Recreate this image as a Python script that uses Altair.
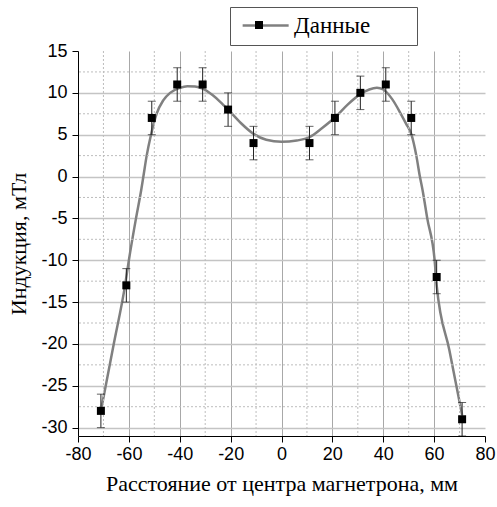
import altair as alt
import pandas as pd

# Measured field along the magnetron radius: position (mm), induction (mT), uncertainty (mT)
pos_mm = [-71, -61, -51, -41, -31, -21, -11, 11, 21, 31, 41, 51, 61, 71]
induction_mT = [-28, -13, 7, 11, 11, 8, 4, 4, 7, 10, 11, 7, -12, -29]
error_mT = [2, 2, 2, 2, 2, 2, 2, 2, 2, 2, 2, 2, 2, 2]

# Smoothed trend through the measurements
curve_mm = [-71, -66, -61.5, -60, -57.2, -55.2, -54.3, -53.0, -51.3, -49.1, -46.5,
            -43.8, -40, -37, -34, -31, -27, -24, -21, -16, -11, -6, 0, 6, 11, 16,
            21, 26, 31, 34.5, 37.5, 40, 43.5, 46.9, 49, 51.1, 53.0, 54.4, 55.5,
            57.3, 60.2, 61.0, 66, 71]
curve_mT = [-28.0, -20.1, -13.0, -10.0, -5.0, -1.7, 0.0, 2.5, 5.0, 7.5, 9.1,
            10.0, 10.6, 10.8, 10.75, 10.5, 9.7, 8.9, 8.0, 6.4, 5.1, 4.4, 4.15, 4.3,
            4.7, 5.8, 7.05, 8.6, 9.85, 10.4, 10.6, 10.4, 9.25, 7.5, 6.3, 5.0, 2.5,
            0.0, -1.7, -5.0, -10.0, -13.0, -20.75, -28.5]

series_name = "Данные"
x_title = "Расстояние от центра магнетрона, мм"
y_title = "Индукция, мТл"

x_ticks = [-80, -70, -60, -50, -40, -30, -20, -10, 0, 10, 20, 30, 40, 50, 60, 70, 80]
y_ticks = [-30, -27.5, -25, -22.5, -20, -17.5, -15, -12.5, -10, -7.5, -5, -2.5,
           0, 2.5, 5, 7.5, 10, 12.5, 15]
x_minor = [-70, -50, -30, -10, 10, 30, 50, 70]
y_minor = [-27.5, -22.5, -17.5, -12.5, -7.5, -2.5, 2.5, 7.5, 12.5]

points = pd.DataFrame({
    "x": pos_mm,
    "y": induction_mT,
    "lo": [v - e for v, e in zip(induction_mT, error_mT)],
    "hi": [v + e for v, e in zip(induction_mT, error_mT)],
    "marker": [series_name] * len(pos_mm),
})
curve = pd.DataFrame({"x": curve_mm, "y": curve_mT, "series": [series_name] * len(curve_mm)})
grid_x = pd.DataFrame({"gx": x_minor})
grid_y = pd.DataFrame({"gy": y_minor})

xscale = alt.Scale(domain=[-80, 80], nice=False, zero=False)
yscale = alt.Scale(domain=[-31, 15], nice=False, zero=False)

minor_x = "datum.value % 20 != 0"
minor_y = "datum.value % 5 != 0"

x_axis = alt.Axis(
    values=x_ticks,
    labelExpr="datum.value % 20 == 0 ? '' + datum.value : ''",
    labelFont="Liberation Sans", labelFontSize=18, labelColor="black",
    labelFlush=False, labelOverlap=False, labelPadding=3,
    tickColor="black",
    tickSize={"condition": {"test": minor_x, "value": 3}, "value": 6},
    domainColor="black", domainWidth=1,
    grid=True, gridColor="#a8a8a8",
    gridOpacity={"condition": {"test": "abs(datum.value) == 80 || " + minor_x, "value": 0}, "value": 1},
    title=x_title, titleFont="Liberation Serif", titleFontSize=22,
    titleFontWeight="normal", titleColor="black", titlePadding=10,
)
y_axis = alt.Axis(
    values=y_ticks,
    labelExpr="datum.value % 5 == 0 ? '' + datum.value : ''",
    labelFont="Liberation Sans", labelFontSize=18, labelColor="black",
    labelFlush=False, labelOverlap=False, labelPadding=5,
    tickColor="black",
    tickSize={"condition": {"test": minor_y, "value": 3}, "value": 6},
    domainColor="black", domainWidth=1,
    grid=True, gridColor="#c4c4c4", gridWidth=1.5,
    gridOpacity={"condition": {"test": "datum.value == 15 || " + minor_y, "value": 0}, "value": 1},
    title=y_title, titleFont="Liberation Serif", titleFontSize=22,
    titleFontWeight="normal", titleColor="black", titlePadding=10,
)

# legend box: gray line sample, label, and a blank title on the right for extra room
line_legend = alt.Legend(
    orient="none", legendX=152, legendY=-44,
    title="\u00a0", titleOrient="right", titlePadding=40, titleFontSize=2,
    symbolType="M-1.27,0H8.71", symbolSize=85, symbolStrokeWidth=2.5,
    labelFont="Liberation Serif", labelFontSize=23, labelColor="black",
    labelOffset=34, padding=7, strokeColor="#555555", fillColor="white",
    zindex=1,
)
marker_legend = alt.Legend(
    orient="none", legendX=177, legendY=-30, title=None,
    symbolSize=64, symbolFillColor="black", symbolStrokeWidth=0,
    symbolOpacity=1, labelExpr="''", labelFontSize=8, padding=0, zindex=2,
)

# dotted minor grid
minor_vertical = alt.Chart(grid_x).mark_rule(color="#bdbdbd", strokeWidth=1, strokeDash=[2, 2]).encode(
    x=alt.X("gx:Q", scale=xscale)
)
minor_horizontal = alt.Chart(grid_y).mark_rule(color="#bdbdbd", strokeWidth=1, strokeDash=[2, 2]).encode(
    y=alt.Y("gy:Q", scale=yscale)
)

trend = alt.Chart(curve).mark_line(strokeWidth=2.5, interpolate="monotone", clip=True).encode(
    x=alt.X("x:Q", scale=xscale, axis=x_axis),
    y=alt.Y("y:Q", scale=yscale, axis=y_axis),
    stroke=alt.Stroke("series:N", scale=alt.Scale(range=["#808080"]), legend=line_legend),
)

bars = alt.Chart(points).mark_rule(color="#222222", strokeWidth=1, clip=True).encode(
    x="x:Q", y="lo:Q", y2="hi:Q"
)
caps_top = alt.Chart(points).mark_tick(color="#222222", size=8, thickness=1,
                                       orient="horizontal", clip=True).encode(
    x="x:Q", y="hi:Q"
)
caps_bottom = alt.Chart(points).mark_tick(color="#222222", size=8, thickness=1,
                                          orient="horizontal", clip=True).encode(
    x="x:Q", y="lo:Q"
)
markers = alt.Chart(points).mark_point(filled=True, color="black", opacity=1, size=64,
                                       clip=True).encode(
    x="x:Q", y="y:Q",
    shape=alt.Shape("marker:N", scale=alt.Scale(range=["square"]), legend=marker_legend),
)

chart = alt.layer(trend, minor_vertical, minor_horizontal, bars, caps_top, caps_bottom, markers).properties(
    width=407, height=385,
    autosize=alt.AutoSizeParams(type="none"),
    padding={"left": 78, "top": 51, "right": 12, "bottom": 71},
    background="white",
).configure_view(stroke=None)

chart.save("out.html", embed_options={"renderer": "svg", "actions": False})
